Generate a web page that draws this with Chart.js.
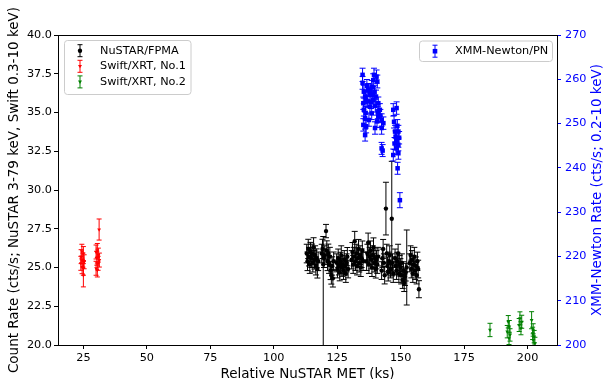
<!DOCTYPE html>
<html>
<head>
<meta charset="utf-8">
<script src="https://cdn.jsdelivr.net/npm/chart.js@4.4.1/dist/chart.umd.min.js"></script>
<style>
  html, body { margin: 0; padding: 0; background: #fff; }
  #c { display: block; }
</style>
</head>
<body>
<canvas id="c" width="603" height="379"></canvas>
<script>
// NuSTAR/FPMA light curve (ks, cts/s)
const nustarTime = [
  113.0,113.3,113.6,113.9,114.2,114.5,114.8,115.1,115.4,115.7,116.0,116.3,116.6,116.9,117.2,117.5,
  118.9,119.2,119.5,119.8,120.1,120.6,120.9,121.2,121.5,121.8,122.1,122.4,122.7,123.0,123.3,123.6,
  124.8,125.1,125.4,125.7,126.0,126.3,126.6,126.9,127.2,127.5,127.8,128.1,128.4,128.7,129.0,129.3,
  130.7,131.0,131.3,131.6,131.9,132.2,132.5,132.8,133.1,133.4,133.7,134.0,134.3,134.6,134.9,135.2,
  136.6,136.9,137.2,137.5,137.8,138.1,138.4,138.7,139.0,139.3,139.6,139.9,140.2,140.5,140.8,141.1,
  142.5,142.8,143.1,143.4,143.7,144.2,144.5,144.8,145.1,145.4,145.7,146.0,146.5,146.8,147.1,
  147.8,148.1,148.4,148.7,149.0,149.3,149.6,149.9,150.2,150.5,150.8,151.1,151.4,151.7,152.0,152.4,
  153.6,153.9,154.2,154.5,154.8,155.1,155.4,155.7,156.0,156.3,156.6,156.9,157.2
];
const nustarRate = [
  25.9,25.4,26.2,25.7,25.2,26.0,25.6,25.9,25.3,26.3,25.5,25.8,25.1,25.6,24.9,25.4,
  25.9,26.2,25.2,25.6,25.8,27.35,26.1,25.4,25.9,25.2,25.7,24.8,24.5,25.1,24.3,25.4,
  25.3,24.9,25.6,25.1,24.7,25.4,25.8,25.0,25.2,24.8,25.5,25.1,24.6,25.3,25.7,24.9,
  25.5,26.0,25.2,25.7,26.7,25.4,25.9,25.1,25.6,26.2,25.3,25.8,25.0,25.6,26.1,25.4,
  25.4,25.9,26.6,25.2,25.7,26.1,25.5,25.0,25.8,26.3,25.3,25.6,24.9,25.5,25.2,25.7,
  24.8,25.6,26.2,25.3,24.5,28.8,25.9,25.1,24.7,25.4,25.8,24.9,28.15,25.3,24.6,
  25.6,25.1,24.8,25.4,25.9,24.6,25.2,25.0,24.5,25.3,24.2,24.8,24.0,24.4,24.7,25.0,
  25.3,25.8,24.9,25.5,24.6,25.2,25.7,24.8,25.1,24.5,25.4,24.9,23.6
];
// symmetric errors, or [lower, upper] where the bar is lopsided
const nustarErr = [
  0.6,0.6,0.62,0.6,0.58,0.62,0.6,0.61,0.59,0.62,0.6,0.6,0.58,0.6,0.58,0.6,
  0.6,0.62,[5.5,1.8],0.6,0.6,0.43,0.62,0.6,0.61,0.58,0.6,0.58,0.57,0.59,0.56,0.6,
  0.58,0.57,0.59,0.58,0.56,0.58,0.6,0.57,0.58,0.57,0.59,0.58,0.56,0.58,0.59,0.57,
  0.59,0.61,0.58,0.6,0.63,0.59,0.6,0.58,0.6,0.61,0.59,0.6,0.58,0.6,0.61,0.59,
  0.59,0.6,0.62,0.58,0.6,0.61,0.59,0.58,0.6,0.61,0.59,0.6,0.58,0.59,0.58,0.6,
  0.57,0.59,0.61,0.58,0.56,1.7,0.6,0.58,0.57,0.59,0.6,0.57,3.7,0.58,0.56,
  0.59,0.58,0.57,0.58,0.6,0.56,0.58,0.57,0.56,0.58,0.55,0.57,0.55,0.56,0.57,2.42,
  0.58,0.6,0.57,0.59,0.56,0.58,0.6,0.57,0.58,0.56,0.59,0.57,0.55
];

// Swift/XRT, No.1
const swift1Time = [24.0,24.1,24.4,24.5,24.8,25.0,25.0,25.0,25.3,30.0,30.0,30.3,30.5,30.5,30.8,30.9,31.2,31.3];
const swift1Rate = [25.27,25.7,26.05,25.05,25.48,25.9,24.95,24.5,25.37,26.0,24.95,25.6,26.1,24.84,25.27,25.8,27.45,25.48];
const swift1Err  = [0.45,0.45,0.45,0.45,0.45,0.45,0.45,0.75,0.45,0.45,0.45,0.45,0.45,0.45,0.45,0.45,0.68,0.45];

// Swift/XRT, No.2
const swift2Time = [185.2,192.0,192.4,192.7,192.8,193.1,196.7,197.0,197.4,197.7,201.6,202.0,202.2,202.2,202.6,202.9];
const swift2Rate = [20.97,20.86,21.5,20.43,21.18,20.65,21.29,21.72,21.08,21.5,21.6,20.75,20.97,20.32,20.54,20.1];
const swift2Err  = [0.43,0.4,0.4,0.4,0.4,0.4,0.42,0.42,0.42,0.42,0.55,0.4,0.4,0.4,0.4,0.4];

// XMM-Newton/PN (right axis)
const xmmTime = [
  135.0,135.0,135.3,135.3,135.5,135.5,136.0,136.0,136.0,136.2,136.4,136.4,136.7,137.0,137.2,137.5,
  137.9,137.9,138.0,138.3,138.6,138.6,139.0,139.2,139.2,139.5,139.7,139.9,140.0,140.3,140.5,140.7,
  140.8,141.0,141.2,141.2,141.8,142.0,142.5,142.5,142.5,142.9,143.2,
  147.1,147.1,147.4,147.6,147.8,148.0,148.2,148.4,148.4,148.7,148.8,149.1,149.1,149.1,149.4,149.7
];
const xmmRate = [
  261.0,259.2,254.6,249.7,257.2,253.1,256.1,251.2,247.4,252.4,255.3,249.3,258.5,255.0,257.6,250.8,
  256.8,253.8,257.5,254.8,258.3,252.3,256.5,259.8,255.3,261.0,257.2,249.0,254.0,256.1,260.6,250.5,
  259.5,252.5,254.6,251.6,253.1,251.8,250.8,249.0,244.4,243.9,250.1,
  253.1,242.9,250.4,245.5,248.2,247.0,244.4,253.5,246.3,249.5,239.9,248.2,245.2,243.3,246.8,232.7
];
const xmmErr = [
  1.5,1.45,1.4,1.4,1.45,1.4,1.45,1.4,1.35,1.4,1.4,1.4,1.45,1.4,1.45,1.4,
  1.45,1.4,1.45,1.4,1.45,1.4,1.45,1.45,1.4,1.5,1.45,1.4,1.4,1.45,1.5,1.4,
  1.45,1.4,1.4,1.4,1.4,1.4,1.4,1.4,1.35,1.35,1.4,
  1.4,1.35,1.4,1.35,1.4,1.35,1.35,1.4,1.35,1.4,1.35,1.4,1.35,1.35,1.4,1.7
];

const xTicks = [25, 50, 75, 100, 125, 150, 175, 200];
const leftTicks = [20.0, 22.5, 25.0, 27.5, 30.0, 32.5, 35.0, 37.5, 40.0];
const rightTicks = [200, 210, 220, 230, 240, 250, 260, 270];

const FONT = "'DejaVu Sans', sans-serif";
const BLUE = '#0000ff';

function points(xs, ys) {
  return xs.map((x, i) => ({ x: x, y: ys[i] }));
}

// vertical error bars with caps, drawn under each dataset's markers
const errorBars = {
  id: 'errorBars',
  beforeDatasetDraw(chart, args) {
    const ds = chart.data.datasets[args.index];
    if (!ds.errors) return;
    const yScale = chart.scales[ds.yAxisID];
    const area = chart.chartArea;
    const ctx = chart.ctx;
    ctx.save();
    ctx.beginPath();
    ctx.rect(area.left, area.top, area.right - area.left, area.bottom - area.top);
    ctx.clip();
    ctx.strokeStyle = ds.backgroundColor;
    ctx.lineWidth = 1;
    args.meta.data.forEach((pt, i) => {
      const v = ds.data[i].y, e = ds.errors[i];
      const eLo = Array.isArray(e) ? e[0] : e;
      const eHi = Array.isArray(e) ? e[1] : e;
      const x = pt.x;
      const lo = yScale.getPixelForValue(v - eLo);
      const hi = yScale.getPixelForValue(v + eHi);
      const c = ds.capHalf;
      ctx.beginPath();
      ctx.moveTo(x, lo); ctx.lineTo(x, hi);
      ctx.moveTo(x - c, lo); ctx.lineTo(x + c, lo);
      ctx.moveTo(x - c, hi); ctx.lineTo(x + c, hi);
      ctx.stroke();
    });
    ctx.restore();
  }
};

function drawMarker(ctx, style, x, y, color) {
  ctx.fillStyle = color;
  ctx.beginPath();
  if (style === 'circle') {
    ctx.arc(x, y, 2.2, 0, Math.PI * 2);
  } else if (style === 'rect') {
    ctx.rect(x - 2.3, y - 2.3, 4.6, 4.6);
  } else {
    ctx.moveTo(x - 2, y - 1.3);
    ctx.lineTo(x + 2, y - 1.3);
    ctx.lineTo(x, y + 2);
    ctx.closePath();
  }
  ctx.fill();
}

function legendBox(ctx, x, y, w, h) {
  const r = 3;
  ctx.beginPath();
  ctx.moveTo(x + r, y);
  ctx.arcTo(x + w, y, x + w, y + h, r);
  ctx.arcTo(x + w, y + h, x, y + h, r);
  ctx.arcTo(x, y + h, x, y, r);
  ctx.arcTo(x, y, x + w, y, r);
  ctx.closePath();
  ctx.fillStyle = 'rgba(255,255,255,0.8)';
  ctx.fill();
  ctx.strokeStyle = '#cccccc';
  ctx.lineWidth = 1;
  ctx.stroke();
}

function legendEntry(ctx, mx, tx, y, color, style, label) {
  ctx.strokeStyle = color;
  ctx.lineWidth = 1;
  ctx.beginPath();
  ctx.moveTo(mx, y - 6); ctx.lineTo(mx, y + 6);
  ctx.moveTo(mx - 2.5, y - 6); ctx.lineTo(mx + 2.5, y - 6);
  ctx.moveTo(mx - 2.5, y + 6); ctx.lineTo(mx + 2.5, y + 6);
  ctx.stroke();
  drawMarker(ctx, style, mx, y, color);
  ctx.fillStyle = '#000';
  ctx.font = '11.25px ' + FONT;
  ctx.textAlign = 'left';
  ctx.textBaseline = 'middle';
  ctx.fillText(label, tx, y);
}

const decorations = {
  id: 'decorations',
  afterDraw(chart) {
    const ctx = chart.ctx;
    const a = chart.chartArea;
    ctx.save();
    // top spine
    ctx.strokeStyle = '#000';
    ctx.lineWidth = 1;
    ctx.beginPath();
    ctx.moveTo(a.left, a.top + 0.5);
    ctx.lineTo(a.right, a.top + 0.5);
    ctx.stroke();

    // axis titles
    const midY = (a.top + a.bottom) / 2;
    ctx.font = '13.5px ' + FONT;
    ctx.textAlign = 'center';
    ctx.textBaseline = 'alphabetic';
    ctx.fillStyle = '#000';
    ctx.fillText('Relative NuSTAR MET (ks)', (a.left + a.right) / 2, 377.5);

    ctx.save();
    ctx.translate(18.3, midY);
    ctx.rotate(-Math.PI / 2);
    ctx.fillText('Count Rate (cts/s; NuSTAR 3-79 keV, Swift 0.3-10 keV)', 0, 0);
    ctx.restore();

    ctx.save();
    ctx.translate(601, midY);
    ctx.rotate(-Math.PI / 2);
    ctx.fillStyle = BLUE;
    ctx.fillText('XMM-Newton Rate (cts/s; 0.2-10 keV)', 0, 0);
    ctx.restore();

    // legends
    legendBox(ctx, 64.5, 40.5, 126.5, 54);
    legendEntry(ctx, 80, 100, 50.7, '#000000', 'circle', 'NuSTAR/FPMA');
    legendEntry(ctx, 80, 100, 66.3, '#ff0000', 'tri', 'Swift/XRT, No.1');
    legendEntry(ctx, 80, 100, 81.9, '#008000', 'tri', 'Swift/XRT, No.2');

    legendBox(ctx, 419.5, 41, 133, 20.5);
    legendEntry(ctx, 435, 455, 51.2, BLUE, 'rect', 'XMM-Newton/PN');
    ctx.restore();
  }
};

const tickFont = { family: FONT, size: 11.25 };

new Chart(document.getElementById('c'), {
  type: 'scatter',
  data: {
    datasets: [
      {
        label: 'XMM-Newton/PN',
        data: points(xmmTime, xmmRate),
        errors: xmmErr,
        capHalf: 3,
        yAxisID: 'y2',
        order: 0,
        pointStyle: 'rect',
        pointRadius: 3.2,
        pointBorderWidth: 0,
        backgroundColor: BLUE,
        borderColor: BLUE
      },
      {
        label: 'NuSTAR/FPMA',
        data: points(nustarTime, nustarRate),
        errors: nustarErr,
        capHalf: 3,
        yAxisID: 'y',
        order: 1,
        pointStyle: 'circle',
        pointRadius: 2.2,
        pointBorderWidth: 0,
        backgroundColor: '#000000',
        borderColor: '#000000'
      },
      {
        label: 'Swift/XRT, No.1',
        data: points(swift1Time, swift1Rate),
        errors: swift1Err,
        capHalf: 2.5,
        yAxisID: 'y',
        order: 2,
        pointStyle: 'triangle',
        pointRotation: 180,
        pointRadius: 2.2,
        pointBorderWidth: 0,
        backgroundColor: '#ff0000',
        borderColor: '#ff0000'
      },
      {
        label: 'Swift/XRT, No.2',
        data: points(swift2Time, swift2Rate),
        errors: swift2Err,
        capHalf: 2.5,
        yAxisID: 'y',
        order: 3,
        pointStyle: 'triangle',
        pointRotation: 180,
        pointRadius: 2.2,
        pointBorderWidth: 0,
        backgroundColor: '#008000',
        borderColor: '#008000'
      }
    ]
  },
  options: {
    responsive: false,
    animation: false,
    devicePixelRatio: 1,
    layout: { padding: { top: 35, left: 0, right: 0, bottom: 0 } },
    plugins: {
      legend: { display: false },
      tooltip: { enabled: false }
    },
    scales: {
      x: {
        type: 'linear',
        min: 15.0,
        max: 211.6,
        afterBuildTicks: s => { s.ticks = xTicks.map(v => ({ value: v })); },
        afterFit: s => { s.height = 34; },
        grid: { drawOnChartArea: false, tickLength: 4, color: '#000' },
        border: { color: '#000', width: 1 },
        ticks: { color: '#000', font: tickFont, padding: 2, maxRotation: 0, autoSkip: false }
      },
      y: {
        type: 'linear',
        position: 'left',
        min: 20,
        max: 40,
        afterBuildTicks: s => { s.ticks = leftTicks.map(v => ({ value: v })); },
        afterFit: s => { s.width = 58; },
        grid: { drawOnChartArea: false, tickLength: 4, color: '#000' },
        border: { color: '#000', width: 1 },
        ticks: { color: '#000', font: tickFont, padding: 2, callback: v => Number(v).toFixed(1) }
      },
      y2: {
        type: 'linear',
        position: 'right',
        min: 200,
        max: 270,
        afterBuildTicks: s => { s.ticks = rightTicks.map(v => ({ value: v })); },
        afterFit: s => { s.width = 46; },
        grid: { drawOnChartArea: false, tickLength: 4, color: BLUE },
        border: { color: '#000', width: 1 },
        ticks: { color: BLUE, font: tickFont, padding: 4 }
      }
    }
  },
  plugins: [errorBars, decorations]
});
</script>
</body>
</html>
